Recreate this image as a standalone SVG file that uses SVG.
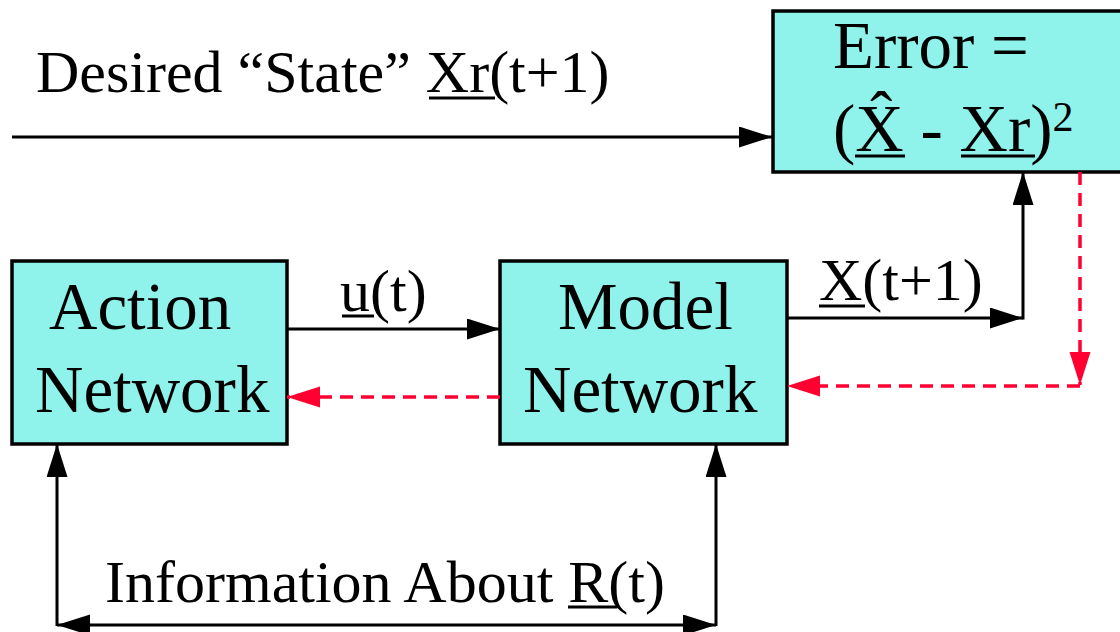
<svg xmlns="http://www.w3.org/2000/svg" width="1120" height="632" viewBox="0 0 1120 632">
<style>
.box{fill:#8ff3eb;stroke:#000;stroke-width:3.5}
.t{font-family:"Liberation Serif","Times New Roman",serif;fill:#000}
.bt{font-size:67px}
.lt{font-size:60px}
.ln{fill:none;stroke:#000;stroke-width:3}
.rd{fill:none;stroke:#ff0030;stroke-width:3.5;stroke-dasharray:13 8}
.ul{stroke:#000;stroke-width:3}
</style>
<defs>
<marker id="ah" markerUnits="userSpaceOnUse" markerWidth="34" markerHeight="22" refX="33" refY="10.5" orient="auto-start-reverse" viewBox="0 0 34 22">
<path d="M0,0 L33,10.5 L0,21 z" fill="#000"/>
</marker>
<marker id="rh" markerUnits="userSpaceOnUse" markerWidth="34" markerHeight="22" refX="33" refY="10.5" orient="auto" viewBox="0 0 34 22">
<path d="M0,0 L33,10.5 L0,21 z" fill="#ff0030"/>
</marker>
</defs>

<g id="desired-label">
<text class="t lt" x="36" y="92">Desired “State” Xr(t+1)</text>
<line class="ul" x1="429" y1="98" x2="495" y2="98"/>
</g>

<g id="error">
<rect class="box" x="773" y="11" width="360" height="161"/>
<text class="t bt" x="833" y="68">Error =</text>
<text class="t bt" x="833" y="151">(X̂ - Xr)<tspan font-size="42" dy="-20">2</tspan></text>
<line class="ul" x1="855" y1="156" x2="905" y2="156"/>
<line class="ul" x1="961" y1="156" x2="1035" y2="156"/>
</g>

<g id="action">
<rect class="box" x="12" y="261" width="275" height="183"/>
<text class="t bt" x="49" y="329">Action</text>
<text class="t bt" x="35" y="412">Network</text>
</g>

<g id="model">
<rect class="box" x="500" y="261" width="287" height="183"/>
<text class="t bt" x="558" y="329">Model</text>
<text class="t bt" x="523" y="412">Network</text>
</g>

<g id="connectors">
<path class="ln" d="M12,137 H772" marker-end="url(#ah)"/>
<path class="ln" d="M287,329 H500" marker-end="url(#ah)"/>
<path class="ln" d="M787,318 H1023" marker-end="url(#ah)"/>
<path class="ln" d="M1023,319.5 V172" marker-end="url(#ah)"/>
<path class="rd" d="M500,397 H287" marker-end="url(#rh)"/>
<path class="rd" d="M1080,172 V385" marker-end="url(#rh)"/>
<path class="rd" d="M1080,386 H787" marker-end="url(#rh)"/>
<path class="ln" d="M57,626 V444" marker-end="url(#ah)"/>
<path class="ln" d="M716,626 V444" marker-end="url(#ah)"/>
<path class="ln" d="M57,625 H716" marker-start="url(#ah)" marker-end="url(#ah)"/>
</g>

<g id="labels">
<text class="t lt" x="340" y="311">u(t)</text>
<line class="ul" x1="342" y1="316" x2="374" y2="316"/>
<text class="t lt" x="819" y="300">X(t+1)</text>
<line class="ul" x1="819" y1="306" x2="865" y2="306"/>
<text class="t lt" x="105" y="602" textLength="560" lengthAdjust="spacingAndGlyphs">Information About R(t)</text>
<line class="ul" x1="568" y1="607" x2="617" y2="607"/>
</g>
</svg>
